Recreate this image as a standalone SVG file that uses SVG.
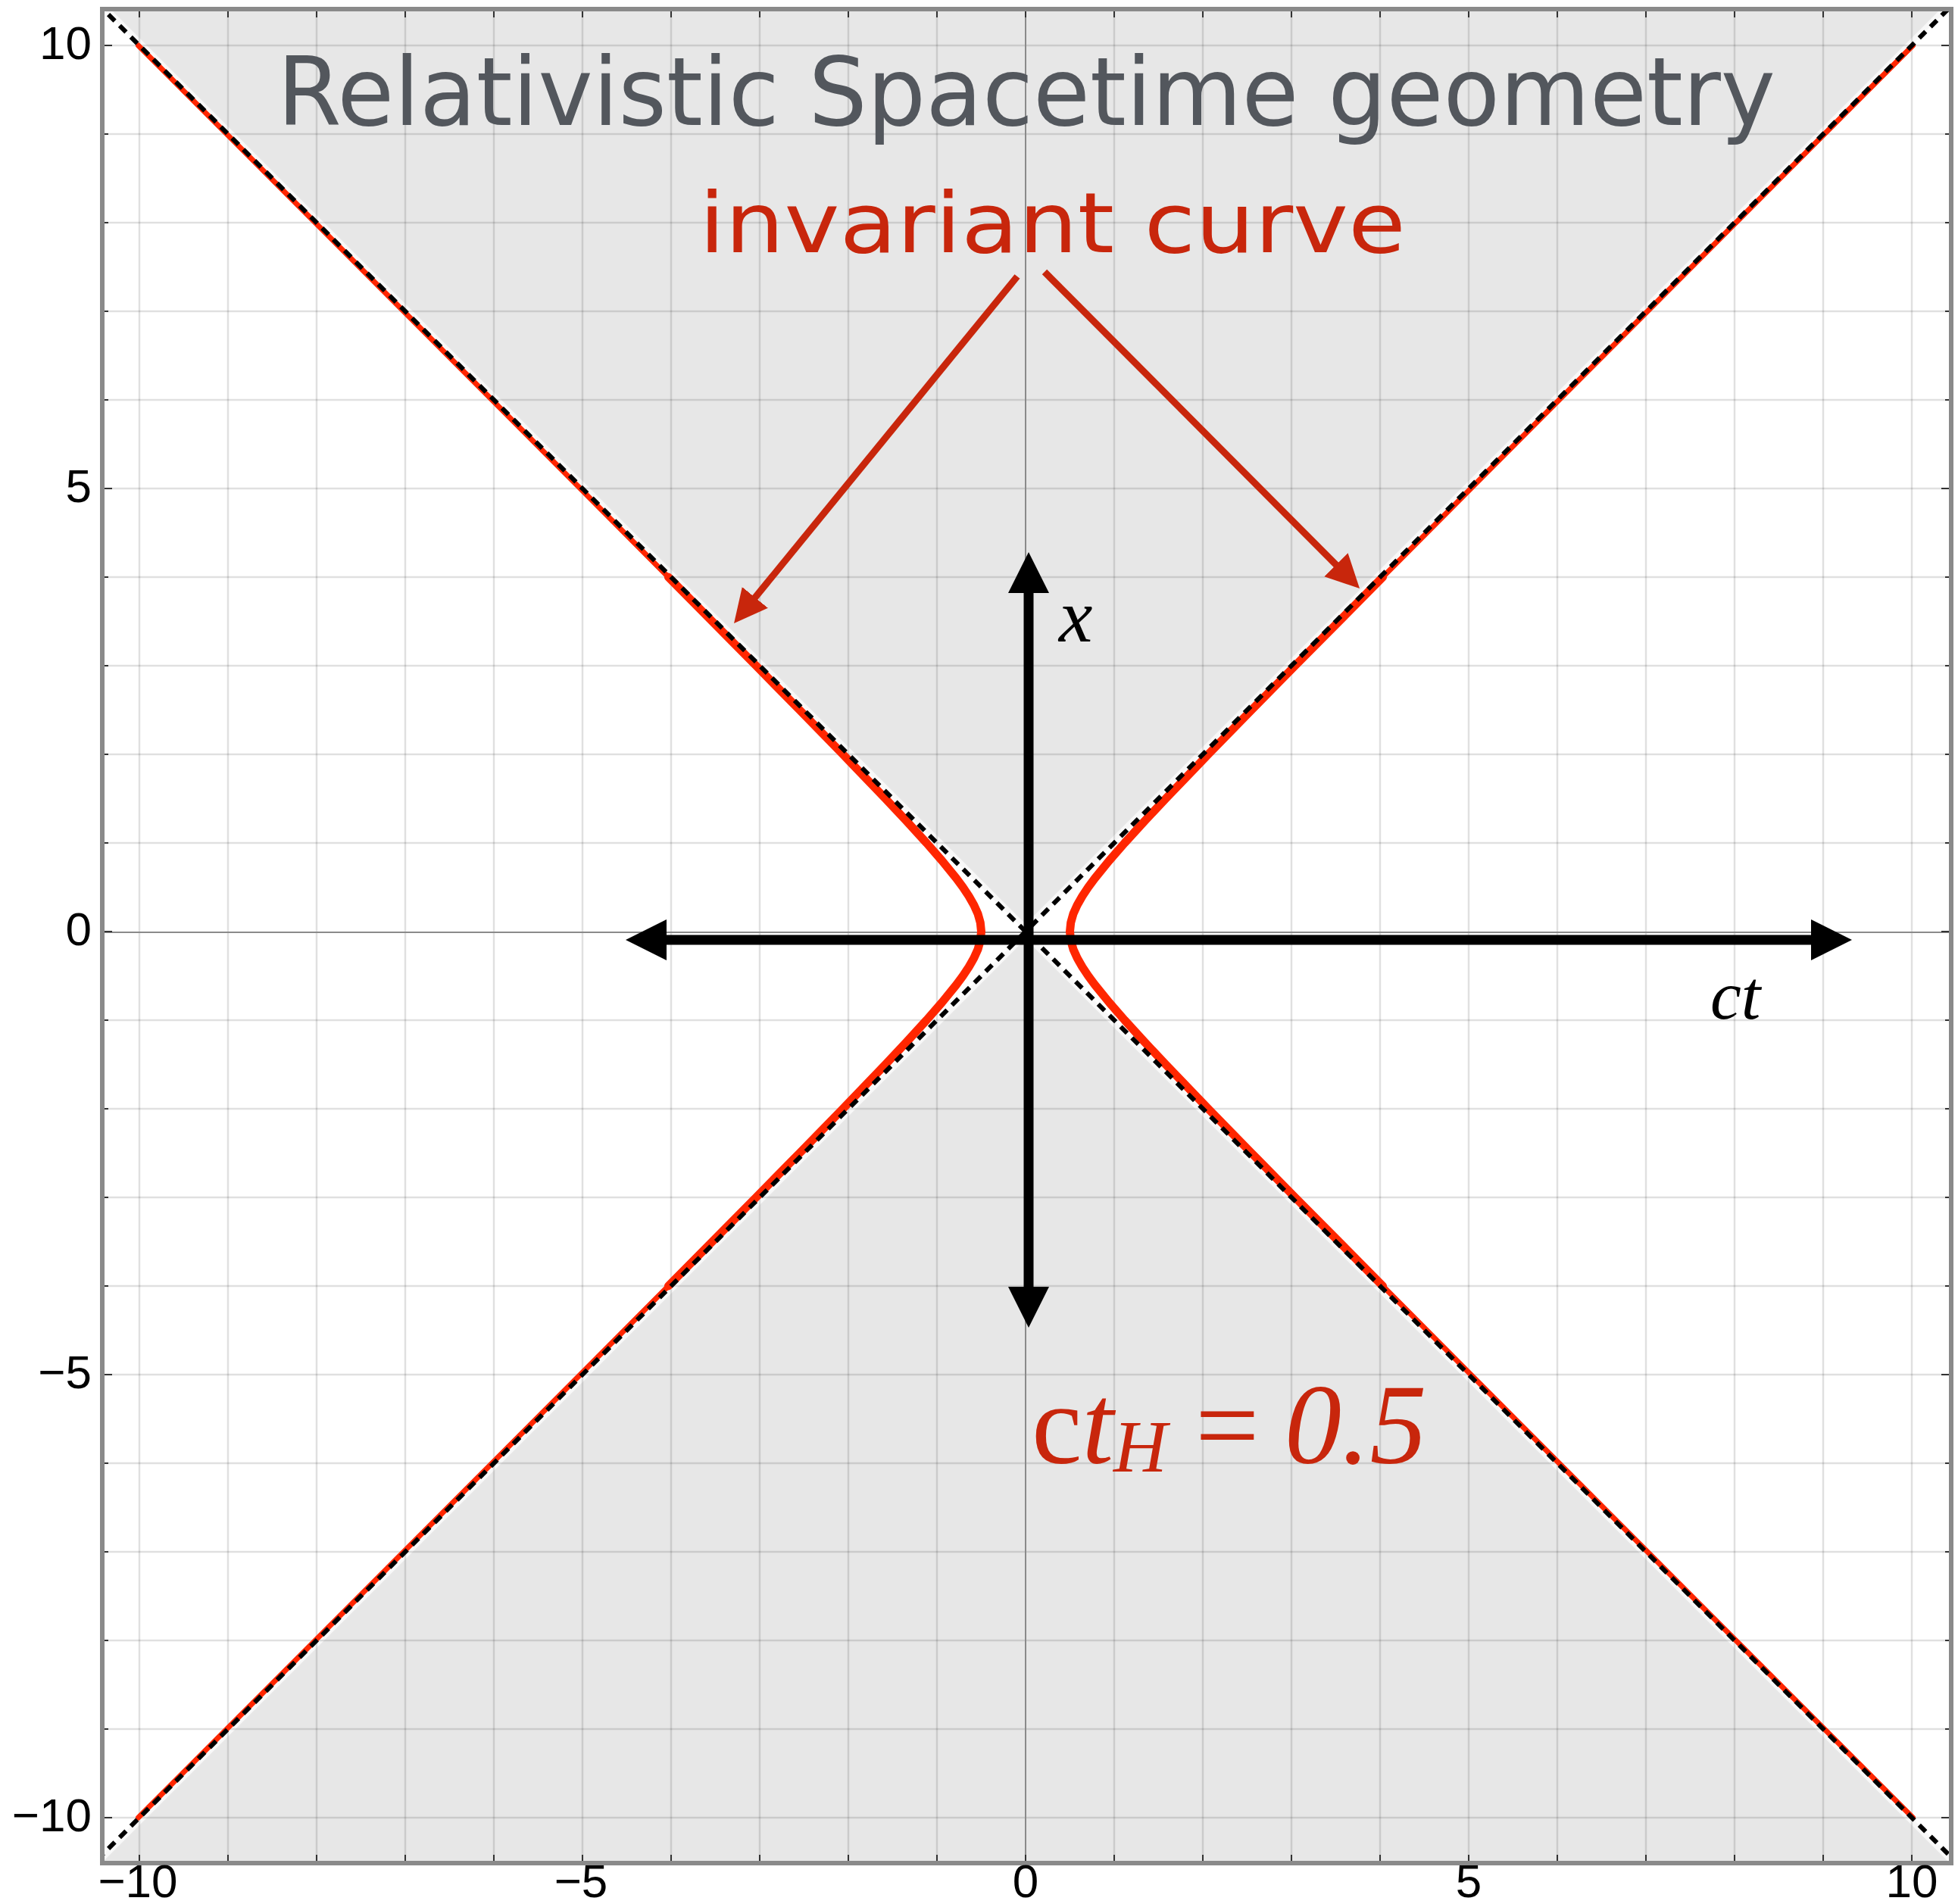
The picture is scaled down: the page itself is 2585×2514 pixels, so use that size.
<svg xmlns="http://www.w3.org/2000/svg" width="2585" height="2514" viewBox="0 0 2585 2514">
<style>
.grid{stroke:#000;stroke-opacity:0.12;stroke-width:2.5;fill:none}
.axis{stroke:#8a8a8a;stroke-width:2;fill:none}
.tick{stroke:#333;stroke-width:2;fill:none}
.tl{font-family:"Liberation Sans",Arial,sans-serif;font-size:62px;fill:#000}
.hyp{fill:none;stroke:#ff2600;stroke-linejoin:round;stroke-linecap:round}
.dash{fill:none;stroke:#000;stroke-width:6;stroke-dasharray:12 9}
.halo{fill:none;stroke:#fff;stroke-opacity:0.7;stroke-width:14}
.redarrow{fill:none;stroke:#c8260c;stroke-width:9;marker-end:url(#redhead)}
.blackarrow{fill:none;stroke:#000;stroke-width:13;marker-start:url(#blackhead);marker-end:url(#blackhead)}
.math{font-family:"Liberation Serif","Times New Roman",serif;fill:#000}
.red{fill:#c8260c}
</style>
<defs>
<clipPath id="plotclip"><rect x="138" y="15" width="2435" height="2442"/></clipPath>
<marker id="redhead" markerUnits="userSpaceOnUse" viewBox="0 -23 44 46" refX="24" refY="0" markerWidth="44" markerHeight="46" orient="auto"><path d="M0,-22 L44,0 L0,22 Z" fill="#c8260c"/></marker>
<marker id="blackhead" markerUnits="userSpaceOnUse" viewBox="0 -28 54 56" refX="30" refY="0" markerWidth="54" markerHeight="56" orient="auto-start-reverse"><path d="M0,-27 L54,0 L0,27 Z" fill="#000"/></marker>
</defs>
<rect x="0" y="0" width="2585" height="2514" fill="#fff"/>
<g id="plot" clip-path="url(#plotclip)">
<g id="regions" fill="#e7e7e7">
<polygon points="1354,1230 54,-70 2654,-70"/>
<polygon points="1354,1230 54,2530 2654,2530"/>
</g>
<g id="halo">
<line class="halo" x1="54" y1="-70" x2="2654" y2="2530"/>
<line class="halo" x1="54" y1="2530" x2="2654" y2="-70"/>
</g>
<g id="gridlines">
<path class="grid" d="M184,0V2514M301,0V2514M418,0V2514M535,0V2514M652,0V2514M769,0V2514M886,0V2514M1003,0V2514M1120,0V2514M1237,0V2514M1471,0V2514M1588,0V2514M1705,0V2514M1822,0V2514M1939,0V2514M2056,0V2514M2173,0V2514M2290,0V2514M2407,0V2514M2524,0V2514"/>
<path class="grid" d="M0,60H2585M0,177H2585M0,294H2585M0,411H2585M0,528H2585M0,645H2585M0,762H2585M0,879H2585M0,996H2585M0,1113H2585M0,1347H2585M0,1464H2585M0,1581H2585M0,1698H2585M0,1815H2585M0,1932H2585M0,2049H2585M0,2166H2585M0,2283H2585M0,2400H2585"/>
<path class="axis" d="M1354,0V2514M0,1231H2585"/>
</g>
<g id="invariant-curve">
<polyline class="hyp" stroke-width="11" points="1825.6,762 1709.8,879 1652.3,937.5 1595.2,996 1539,1054.5 1511.5,1083.75 1484.8,1113 1464.4,1136.4 1445.4,1159.8 1436.7,1171.5 1428.9,1183.2 1422.2,1194.9 1417,1206.6 1413.7,1218.3 1412.5,1230 1413.7,1241.7 1417,1253.4 1422.2,1265.1 1428.9,1276.8 1436.7,1288.5 1445.4,1300.2 1464.4,1323.6 1484.8,1347 1511.5,1376.25 1539,1405.5 1595.2,1464 1652.3,1522.5 1709.8,1581 1825.6,1698"/>
<polyline class="hyp" stroke-width="11" points="882.4,762 998.2,879 1055.7,937.5 1112.8,996 1169,1054.5 1196.5,1083.75 1223.2,1113 1243.6,1136.4 1262.6,1159.8 1271.3,1171.5 1279.1,1183.2 1285.8,1194.9 1291,1206.6 1294.3,1218.3 1295.5,1230 1294.3,1241.7 1291,1253.4 1285.8,1265.1 1279.1,1276.8 1271.3,1288.5 1262.6,1300.2 1243.6,1323.6 1223.2,1347 1196.5,1376.25 1169,1405.5 1112.8,1464 1055.7,1522.5 998.2,1581 882.4,1698"/>
<polyline class="hyp" stroke-width="7" points="1825.6,762 1941.9,645 2058.4,528 2291.8,294 2525.5,60"/>
<polyline class="hyp" stroke-width="7" points="1825.6,1698 1941.9,1815 2058.4,1932 2291.8,2166 2525.5,2400"/>
<polyline class="hyp" stroke-width="7" points="882.4,762 766.1,645 649.6,528 416.2,294 182.5,60"/>
<polyline class="hyp" stroke-width="7" points="882.4,1698 766.1,1815 649.6,1932 416.2,2166 182.5,2400"/>
</g>
<g id="light-cone">
<line class="dash" x1="54" y1="-70" x2="2654" y2="2530"/>
<line class="dash" x1="54" y1="2530" x2="2654" y2="-70"/>
</g>
</g>
<g id="connectors">
<line class="redarrow" x1="1343" y1="365" x2="981.7" y2="807.5"/>
<line class="redarrow" x1="1379" y1="359" x2="1780.9" y2="762.8"/>
<line class="blackarrow" x1="850" y1="1241" x2="2421" y2="1241"/>
<line class="blackarrow" x1="1358" y1="753" x2="1358" y2="1729"/>
</g>
<g id="title">
<text x="366" y="165" textLength="1978" lengthAdjust="spacingAndGlyphs" font-family="DejaVu Sans, sans-serif" font-size="124" fill="#53575d">Relativistic Spacetime geometry</text>
</g>
<g id="label-invariant">
<text x="923" y="333" textLength="933" lengthAdjust="spacingAndGlyphs" font-family="DejaVu Sans, sans-serif" font-size="110" fill="#c8260c">invariant curve</text>
</g>
<g id="label-x">
<text class="math" x="1398" y="847" font-size="100" font-style="italic">x</text>
</g>
<g id="label-ct">
<text class="math" x="2258" y="1345" font-size="92" font-style="italic">ct</text>
</g>
<g id="label-cth">
<text class="math red" y="1932" font-size="150"><tspan x="1362">c</tspan><tspan font-style="italic">t</tspan><tspan x="1470" y="1943" font-size="98" font-style="italic">H</tspan><tspan x="1578" y="1932">=</tspan><tspan x="1696" y="1932" font-style="italic">0.5</tspan></text>
</g>
<g id="frame">
<rect x="135" y="12" width="2441" height="2448" fill="none" stroke="#8a8a8a" stroke-width="6"/>
<path class="tick" d="M184,2457v-8M301,2457v-8M418,2457v-8M535,2457v-8M652,2457v-8M769,2457v-8M886,2457v-8M1003,2457v-8M1120,2457v-8M1237,2457v-8M1354,2457v-8M1471,2457v-8M1588,2457v-8M1705,2457v-8M1822,2457v-8M1939,2457v-8M2056,2457v-8M2173,2457v-8M2290,2457v-8M2407,2457v-8M2524,2457v-8"/>
<path class="tick" d="M184,15v8M301,15v8M418,15v8M535,15v8M652,15v8M769,15v8M886,15v8M1003,15v8M1120,15v8M1237,15v8M1354,15v8M1471,15v8M1588,15v8M1705,15v8M1822,15v8M1939,15v8M2056,15v8M2173,15v8M2290,15v8M2407,15v8M2524,15v8"/>
<path class="tick" d="M138,60h10M138,177h5M138,294h5M138,411h5M138,528h5M138,645h10M138,762h5M138,879h5M138,996h5M138,1113h5M138,1230h10M138,1347h5M138,1464h5M138,1581h5M138,1698h5M138,1815h10M138,1932h5M138,2049h5M138,2166h5M138,2283h5M138,2400h10"/>
<path class="tick" d="M2573,60h-10M2573,177h-5M2573,294h-5M2573,411h-5M2573,528h-5M2573,645h-10M2573,762h-5M2573,879h-5M2573,996h-5M2573,1113h-5M2573,1230h-10M2573,1347h-5M2573,1464h-5M2573,1581h-5M2573,1698h-5M2573,1815h-10M2573,1932h-5M2573,2049h-5M2573,2166h-5M2573,2283h-5M2573,2400h-10"/>
</g>
<g id="tick-labels-y" text-anchor="end">
<text class="tl" x="121" y="78">10</text>
<text class="tl" x="121" y="663">5</text>
<text class="tl" x="121" y="1248">0</text>
<text class="tl" x="121" y="1833">−5</text>
<text class="tl" x="121" y="2418">−10</text>
</g>
<g id="tick-labels-x" text-anchor="middle">
<text class="tl" x="182" y="2505">−10</text>
<text class="tl" x="767" y="2505">−5</text>
<text class="tl" x="1354" y="2505">0</text>
<text class="tl" x="1939" y="2505">5</text>
<text class="tl" x="2524" y="2505">10</text>
</g>
</svg>
